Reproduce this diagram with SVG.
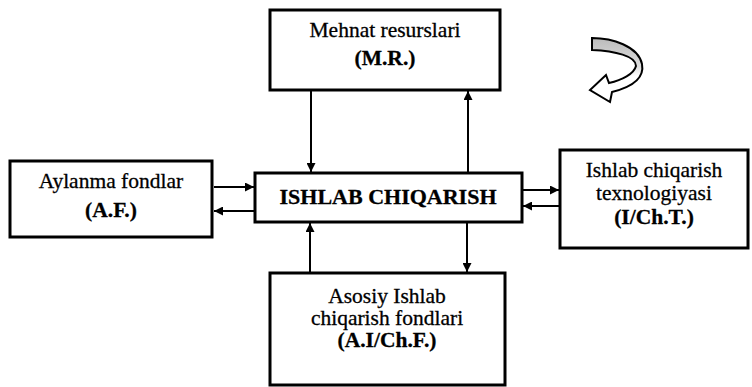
<svg xmlns="http://www.w3.org/2000/svg" width="752" height="387" viewBox="0 0 752 387">
  <defs>
    <marker id="ah" viewBox="0 0 10 10" refX="10" refY="5" markerWidth="10" markerHeight="9" markerUnits="userSpaceOnUse" orient="auto">
      <path d="M0,0 L10,5 L0,10 z" fill="#000"/>
    </marker>
    <linearGradient id="shade" x1="0" y1="0" x2="0" y2="1">
      <stop offset="0" stop-color="#bbb"/>
      <stop offset="0.45" stop-color="#ddd"/>
      <stop offset="0.6" stop-color="#fff"/>
    </linearGradient>
  </defs>
  <style>
    .box { fill: #fff; stroke: #000; stroke-width: 3; }
    .t { font-family: "Liberation Serif", "Times New Roman", serif; font-size: 21.5px; fill: #000; stroke: #000; stroke-width: 0.3; text-anchor: middle; }
    .b { font-weight: bold; }
    .c { stroke: #000; stroke-width: 2; fill: none; marker-end: url(#ah); }
  </style>
  <rect width="752" height="387" fill="#fff"/>

  <g id="mr">
    <rect class="box" x="270" y="10" width="230" height="80"/>
    <text class="t" x="385" y="37">Mehnat resurslari</text>
    <text class="t b" x="385" y="65">(M.R.)</text>
  </g>

  <g id="af">
    <rect class="box" x="10" y="161" width="202" height="76"/>
    <text class="t" x="111" y="188">Aylanma fondlar</text>
    <text class="t b" x="111" y="217">(A.F.)</text>
  </g>

  <g id="ich">
    <rect class="box" x="255" y="173" width="267" height="49"/>
    <text class="t b" x="388" y="204" font-size="22" textLength="217" lengthAdjust="spacingAndGlyphs">ISHLAB CHIQARISH</text>
  </g>

  <g id="icht">
    <rect class="box" x="560" y="150" width="188" height="98"/>
    <text class="t" x="654" y="177">Ishlab chiqarish</text>
    <text class="t" x="654" y="200">texnologiyasi</text>
    <text class="t b" x="654" y="224">(I/Ch.T.)</text>
  </g>

  <g id="aichf">
    <rect class="box" x="270" y="273" width="235" height="112"/>
    <text class="t" x="387" y="303">Asosiy Ishlab</text>
    <text class="t" x="387" y="325">chiqarish fondlari</text>
    <text class="t b" x="387" y="347">(A.I/Ch.F.)</text>
  </g>

  <g id="connectors">
    <line class="c" x1="311" y1="91" x2="311" y2="172"/>
    <line class="c" x1="468" y1="172" x2="468" y2="91"/>
    <line class="c" x1="214" y1="187" x2="254" y2="187"/>
    <line class="c" x1="254" y1="211" x2="214" y2="211"/>
    <line class="c" x1="523" y1="190" x2="559" y2="190"/>
    <line class="c" x1="559" y1="206" x2="523" y2="206"/>
    <line class="c" x1="310" y1="272" x2="310" y2="223"/>
    <line class="c" x1="467" y1="223" x2="467" y2="272"/>
  </g>

  <g id="curved-arrow">
    <path d="M592,38 C612,38 638,46 642,64 C645,80 628,88 612,92 L610,102 L590,90 L606,75 L609,83 C622,80 634,74 636,66 C636,56 615,51 592,50 Z" fill="url(#shade)" stroke="#000" stroke-width="2" stroke-linejoin="miter"/>
  </g>
</svg>
